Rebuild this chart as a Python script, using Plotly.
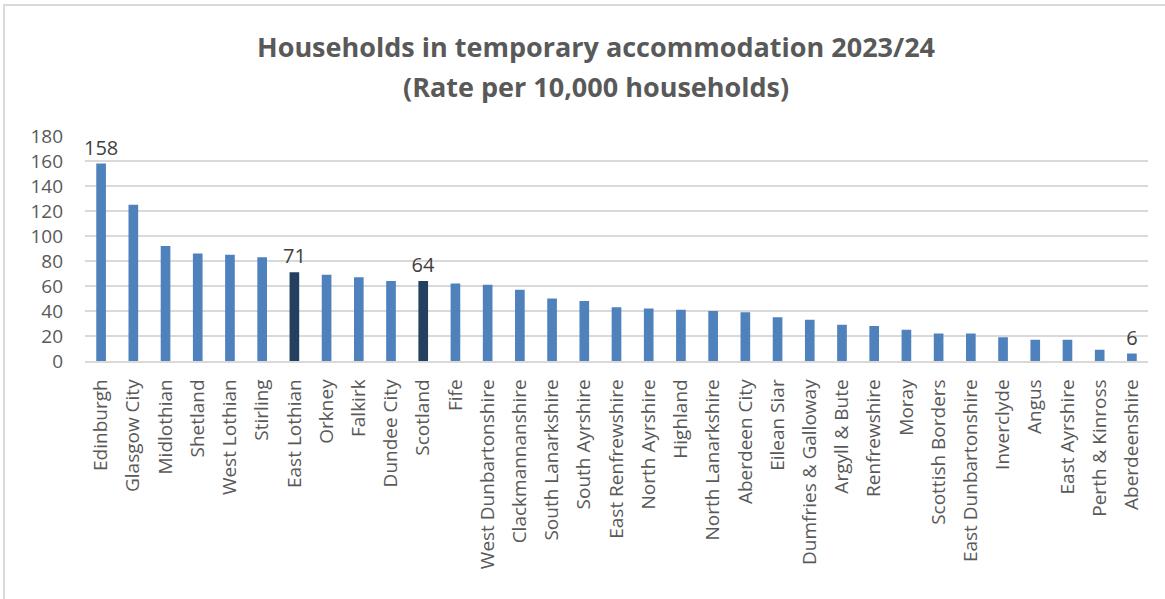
import plotly.graph_objects as go

# Rate per 10,000 households, 2023/24
areas = ["Edinburgh", "Glasgow City", "Midlothian", "Shetland", "West Lothian",
         "Stirling", "East Lothian", "Orkney", "Falkirk", "Dundee City",
         "Scotland", "Fife", "West Dunbartonshire", "Clackmannanshire",
         "South Lanarkshire", "South Ayrshire", "East Renfrewshire",
         "North Ayrshire", "Highland", "North Lanarkshire", "Aberdeen City",
         "Eilean Siar", "Dumfries & Galloway", "Argyll & Bute", "Renfrewshire",
         "Moray", "Scottish Borders", "East Dunbartonshire", "Inverclyde",
         "Angus", "East Ayrshire", "Perth & Kinross", "Aberdeenshire"]
rates = [158, 125, 92, 86, 85, 83, 71, 69, 67, 64,
         64, 62, 61, 57, 50, 48, 43, 42, 41, 40, 39,
         35, 33, 29, 28, 25, 22, 22, 19, 17, 17, 9, 6]
highlight = ["East Lothian", "Scotland"]
labelled = ["Edinburgh", "East Lothian", "Scotland", "Aberdeenshire"]

colors = ["#243F60" if a in highlight else "#4F81BD" for a in areas]
texts = [str(r) if a in labelled else "" for a, r in zip(areas, rates)]

fig = go.Figure(go.Bar(
    x=areas, y=rates,
    marker=dict(color=colors, line=dict(width=0)),
    width=0.3,
    text=texts, textposition="outside", cliponaxis=False,
    constraintext="none",
    textfont=dict(size=20, color="#404040", family="Open Sans"),
))

title_font = dict(size=27, color="#595959", family="Open Sans")
fig.update_layout(
    width=1165, height=599,
    margin=dict(l=85, r=17, t=136, b=238, autoexpand=False),
    paper_bgcolor="white", plot_bgcolor="white",
    font=dict(family="Open Sans", color="#595959"),
    showlegend=False,
    annotations=[
        dict(text="<b>Households in temporary accommodation 2023/24</b>",
             xref="paper", yref="paper", x=0.481, y=1.396,
             xanchor="center", yanchor="middle", showarrow=False, font=title_font),
        dict(text="<b>(Rate per 10,000 households)</b>",
             xref="paper", yref="paper", x=0.481, y=1.218,
             xanchor="center", yanchor="middle", showarrow=False, font=title_font),
    ],
    shapes=[dict(type="rect", xref="paper", yref="paper",
                 x0=-0.0762, x1=1.2, y0=-1.2, y1=1.582,
                 line=dict(color="#D9D9D9", width=2), layer="below")],
)
fig.update_yaxes(range=[0, 180], dtick=20, showgrid=True, gridcolor="#D9D9D9",
                 gridwidth=1.5, zeroline=False, showline=False, automargin=False,
                 tickfont=dict(size=19, color="#595959"), ticks="", ticklabelstandoff=21)
fig.update_xaxes(tickangle=-90, showline=True, linecolor="#D9D9D9", linewidth=1.5,
                 automargin=False,
                 tickfont=dict(size=19, color="#595959"), ticks="",
                 ticklabelstandoff=9)

fig.write_html("out.html", config={"displayModeBar": False},
               post_script="document.body.style.margin='0';")
